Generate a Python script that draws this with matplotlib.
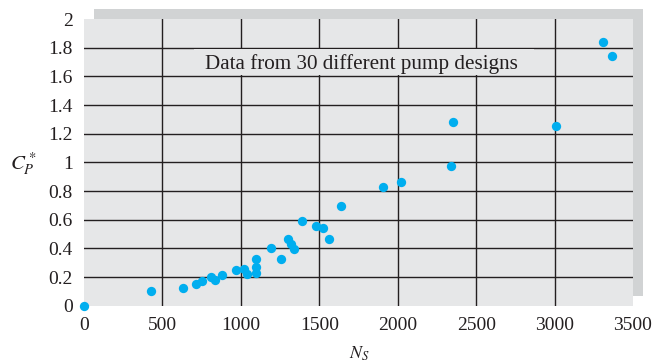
import matplotlib
matplotlib.use('Agg')
import matplotlib.pyplot as plt
from matplotlib.patches import Rectangle
from matplotlib.transforms import ScaledTranslation

# pump data
ns = [0, 430, 630, 717, 751, 810, 834, 880, 972, 1018, 1039, 1095, 1095, 1099,
      1192, 1258, 1302, 1322, 1339, 1392, 1476, 1523, 1561, 1640, 1905, 2022,
      2340, 2350, 3008, 3309, 3369]
cp = [0.0, 0.10, 0.12, 0.154, 0.175, 0.203, 0.182, 0.214, 0.247, 0.254, 0.219,
      0.226, 0.268, 0.323, 0.40, 0.326, 0.465, 0.428, 0.395, 0.593, 0.558, 0.544,
      0.463, 0.695, 0.826, 0.865, 0.977, 1.284, 1.256, 1.837, 1.744]
x_ticks = [0, 500, 1000, 1500, 2000, 2500, 3000, 3500]
y_ticks = [0, 0.2, 0.4, 0.6, 0.8, 1, 1.2, 1.4, 1.6, 1.8, 2]
y_labels = ['0', '0.2', '0.4', '0.6', '0.8', '1', '1.2', '1.4', '1.6', '1.8', '2']
note = 'Data from 30 different pump designs'

plt.rcParams['font.family'] = ['Liberation Serif', 'DejaVu Serif']
plt.rcParams['mathtext.fontset'] = 'stix'
ink = '#231f20'
bg = '#e6e7e8'

fig = plt.figure(figsize=(6.55, 3.64), dpi=100)
ax = fig.add_axes([0.1282, 0.1602, 0.8382, 0.7876])
ax.set_facecolor(bg)
ax.set_xlim(0, 3500)
ax.set_ylim(0, 2)
for s in ax.spines.values():
    s.set_visible(False)

# drop shadow behind the plot area
shadow = Rectangle((0, 0), 1, 1, facecolor='#d1d3d4', edgecolor='none', zorder=-1,
                   transform=ax.transAxes + ScaledTranslation(0.10, 0.10, fig.dpi_scale_trans))
fig.add_artist(shadow)

for v in x_ticks[1:-1]:
    ax.axvline(v, color=ink, lw=1.0, zorder=0.5)
for v in y_ticks[1:-1]:
    ax.axhline(v, color=ink, lw=1.0, zorder=0.5)

ax.set_xticks(x_ticks)
ax.set_yticks(y_ticks)
ax.set_yticklabels(y_labels)
ax.tick_params(length=0, labelsize=14, colors=ink)
ax.tick_params(axis='y', pad=8)
ax.tick_params(axis='x', pad=8)

ax.add_patch(Rectangle((700, 1.61), 2170, 0.18, facecolor=bg, edgecolor='none', zorder=1))
ax.text(1772, 1.685, note, ha='center', va='center', fontsize=15.2, color=ink, zorder=2)

ax.scatter(ns, cp, s=45, color='#00aeef', zorder=3, clip_on=False, linewidths=0)

fig.text(23 / 655, 1 - 164 / 364, r'$C_P^*$', ha='center', va='center', fontsize=15, color=ink)
fig.text(359 / 655, 1 - 354 / 364, r'$N_S$', ha='center', va='center', fontsize=13, color=ink)

fig.savefig('out.png', dpi=100)
